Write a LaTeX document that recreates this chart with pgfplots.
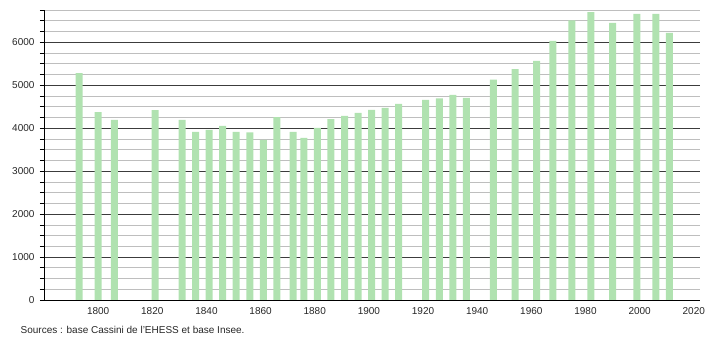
\documentclass[border=0pt]{standalone}
\usepackage{pgfplots}
\pgfplotsset{compat=1.18}
\usepackage{fontspec}
\setmainfont{Liberation Sans}
\definecolor{barg}{RGB}{176,226,176}
\definecolor{majg}{RGB}{60,60,60}
\definecolor{ming}{RGB}{190,190,190}
\begin{document}
\begin{tikzpicture}[x=1pt,y=1pt]
\path[use as bounding box] (0,0) rectangle (710,340);
\begin{axis}[
  at={(44pt,40pt)}, anchor=south west,
  scale only axis, width=656pt, height=290pt,
  xmin=1780, xmax=2022.3, ymin=0, ymax=6750,
  axis x line*=bottom, axis y line*=left,
  axis line style={black, line width=0.8pt},
  xtick={1800,1820,...,2020},
  xticklabel style={/pgf/number format/.cd,1000 sep={}},
  ytick={0,1000,...,6000},
  minor ytick={250,500,...,6750},
  yticklabel style={/pgf/number format/.cd,1000 sep={}},
  /pgf/number format/assume math mode=true,
  ticklabel style={font=\fontsize{10}{12}\selectfont, text=black!85},
  tick align=outside,
  x tick style={draw=none},
  major tick length=4pt, minor tick length=4pt,
  y tick style={black, line width=0.6pt},
  ymajorgrids, yminorgrids,
  major grid style={majg, line width=0.7pt},
  minor grid style={ming, line width=0.6pt},
  grid=both, xmajorgrids=false, xminorgrids=false,
  ybar, bar width=7pt, bar shift=0pt,
  clip=false,
  yticklabel shift=2pt,
]
\addplot[fill=barg, draw=none] coordinates {
(1793,5283) (1800,4371) (1806,4191) (1821,4420) (1831,4191) (1836,3911)
(1841,3958) (1846,4051) (1851,3911) (1856,3900) (1861,3724) (1866,4254)
(1872,3911) (1876,3771) (1881,4004) (1886,4208) (1891,4285) (1896,4355)
(1901,4426) (1906,4472) (1911,4566) (1921,4659) (1926,4690) (1931,4776)
(1936,4706) (1946,5127) (1954,5376) (1962,5563) (1968,6031) (1975,6506)
(1982,6700) (1990,6452) (1999,6662) (2006,6662) (2011,6218)
};
\end{axis}
\node[anchor=base west, font=\fontsize{10}{12}\selectfont, text=black!85, inner sep=0pt] at (20.5,6.5) {Sources : base Cassini de l'EHESS et base Insee.};
\end{tikzpicture}
\end{document}
